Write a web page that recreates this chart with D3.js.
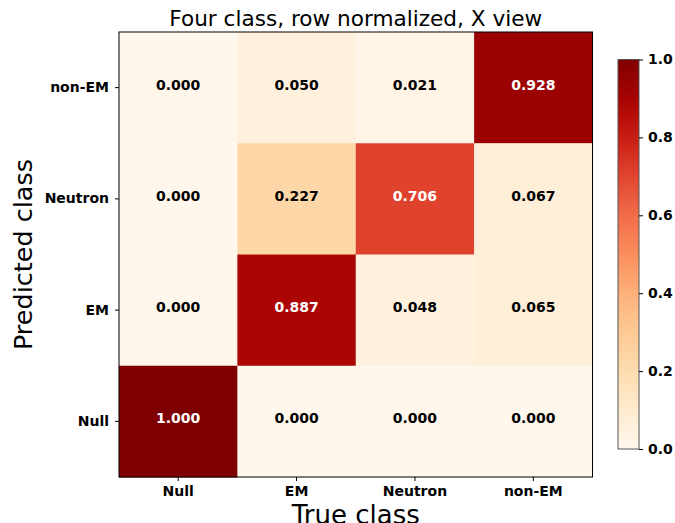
<!DOCTYPE html>
<html><head><meta charset="utf-8">
<script src="https://cdn.jsdelivr.net/npm/d3@7"></script>
<style>body{margin:0;background:#fff}svg{display:block}text{font-family:"DejaVu Sans",sans-serif}</style>
</head><body>
<svg id="c" width="675" height="523"></svg>
<script>
const trueClasses = ["Null","EM","Neutron","non-EM"];
const predClasses = ["non-EM","Neutron","EM","Null"]; // top to bottom
const rowNonEM   = [0.000, 0.050, 0.021, 0.928];
const rowNeutron = [0.000, 0.227, 0.706, 0.067];
const rowEM      = [0.000, 0.887, 0.048, 0.065];
const rowNull    = [1.000, 0.000, 0.000, 0.000];
const matrix = [rowNonEM, rowNeutron, rowEM, rowNull];
const cbTicks = [0.0,0.2,0.4,0.6,0.8,1.0];

const svg = d3.select("#c");
const L=119, R=592.5, T=32, B=477;
const x = d3.scaleBand().domain(trueClasses).range([L,R]);
const y = d3.scaleBand().domain(predClasses).range([T,B]);
const color = v => d3.interpolateOrRd(v);

const cells=[];
matrix.forEach((row,i)=>row.forEach((v,j)=>cells.push({r:predClasses[i],c:trueClasses[j],v})));
svg.selectAll("rect.cell").data(cells).enter().append("rect")
  .attr("x",d=>x(d.c)).attr("y",d=>y(d.r))
  .attr("width",x.bandwidth()+0.5).attr("height",y.bandwidth()+0.5)
  .attr("fill",d=>color(d.v));
svg.selectAll("text.val").data(cells).enter().append("text")
  .attr("x",d=>x(d.c)+x.bandwidth()/2).attr("y",d=>y(d.r)+y.bandwidth()/2-3)
  .attr("text-anchor","middle").attr("dominant-baseline","central")
  .attr("font-size",14).attr("font-weight","bold")
  .attr("fill",d=>d.v>0.5?"#fff":"#000")
  .text(d=>d.v.toFixed(3));

svg.append("rect").attr("x",L).attr("y",T).attr("width",R-L).attr("height",B-T)
  .attr("fill","none").attr("stroke","#000").attr("stroke-width",1);

const xa = svg.append("g").attr("transform",`translate(0,${B})`)
  .call(d3.axisBottom(x).tickSize(4).tickPadding(5));
const ya = svg.append("g").attr("transform",`translate(${L},0)`)
  .call(d3.axisLeft(y).tickSize(4).tickPadding(6));
[xa,ya].forEach(a=>{
  a.select(".domain").remove();
  a.selectAll("text").attr("font-size",14).attr("font-weight","bold").attr("fill","#000")
    .style("font-family","'DejaVu Sans',sans-serif");
});

svg.append("text").attr("x",(L+R)/2).attr("y",26).attr("text-anchor","middle")
  .attr("font-size",21.6).attr("fill","#000").text("Four class, row normalized, X view");
svg.append("text").attr("x",(L+R)/2).attr("y",524).attr("text-anchor","middle")
  .attr("font-size",26).attr("fill","#000").text("True class");
svg.append("text").attr("transform",`translate(32,${(T+B)/2}) rotate(-90)`).attr("text-anchor","middle")
  .attr("font-size",25.5).attr("fill","#000").text("Predicted class");

// colorbar
const cbX=618, cbW=21, cbT=59.5, cbB=449;
const cy = d3.scaleLinear().domain([0,1]).range([cbB,cbT]);
const defs = svg.append("defs");
const grad = defs.append("linearGradient").attr("id","g").attr("x1",0).attr("y1",1).attr("x2",0).attr("y2",0);
d3.range(0,1.0001,0.05).forEach(t=>grad.append("stop").attr("offset",t).attr("stop-color",color(t)));
svg.append("rect").attr("x",cbX).attr("y",cbT).attr("width",cbW).attr("height",cbB-cbT)
  .attr("fill","url(#g)").attr("stroke","#555").attr("stroke-width",1);
const ca = svg.append("g").attr("transform",`translate(${cbX+cbW},0)`)
  .call(d3.axisRight(cy).tickValues(cbTicks).tickFormat(d3.format(".1f")).tickSize(4).tickPadding(5));
ca.select(".domain").remove();
ca.selectAll("text").attr("font-size",14).attr("font-weight","bold").attr("fill","#000")
  .style("font-family","'DejaVu Sans',sans-serif");
</script>
</body></html>
